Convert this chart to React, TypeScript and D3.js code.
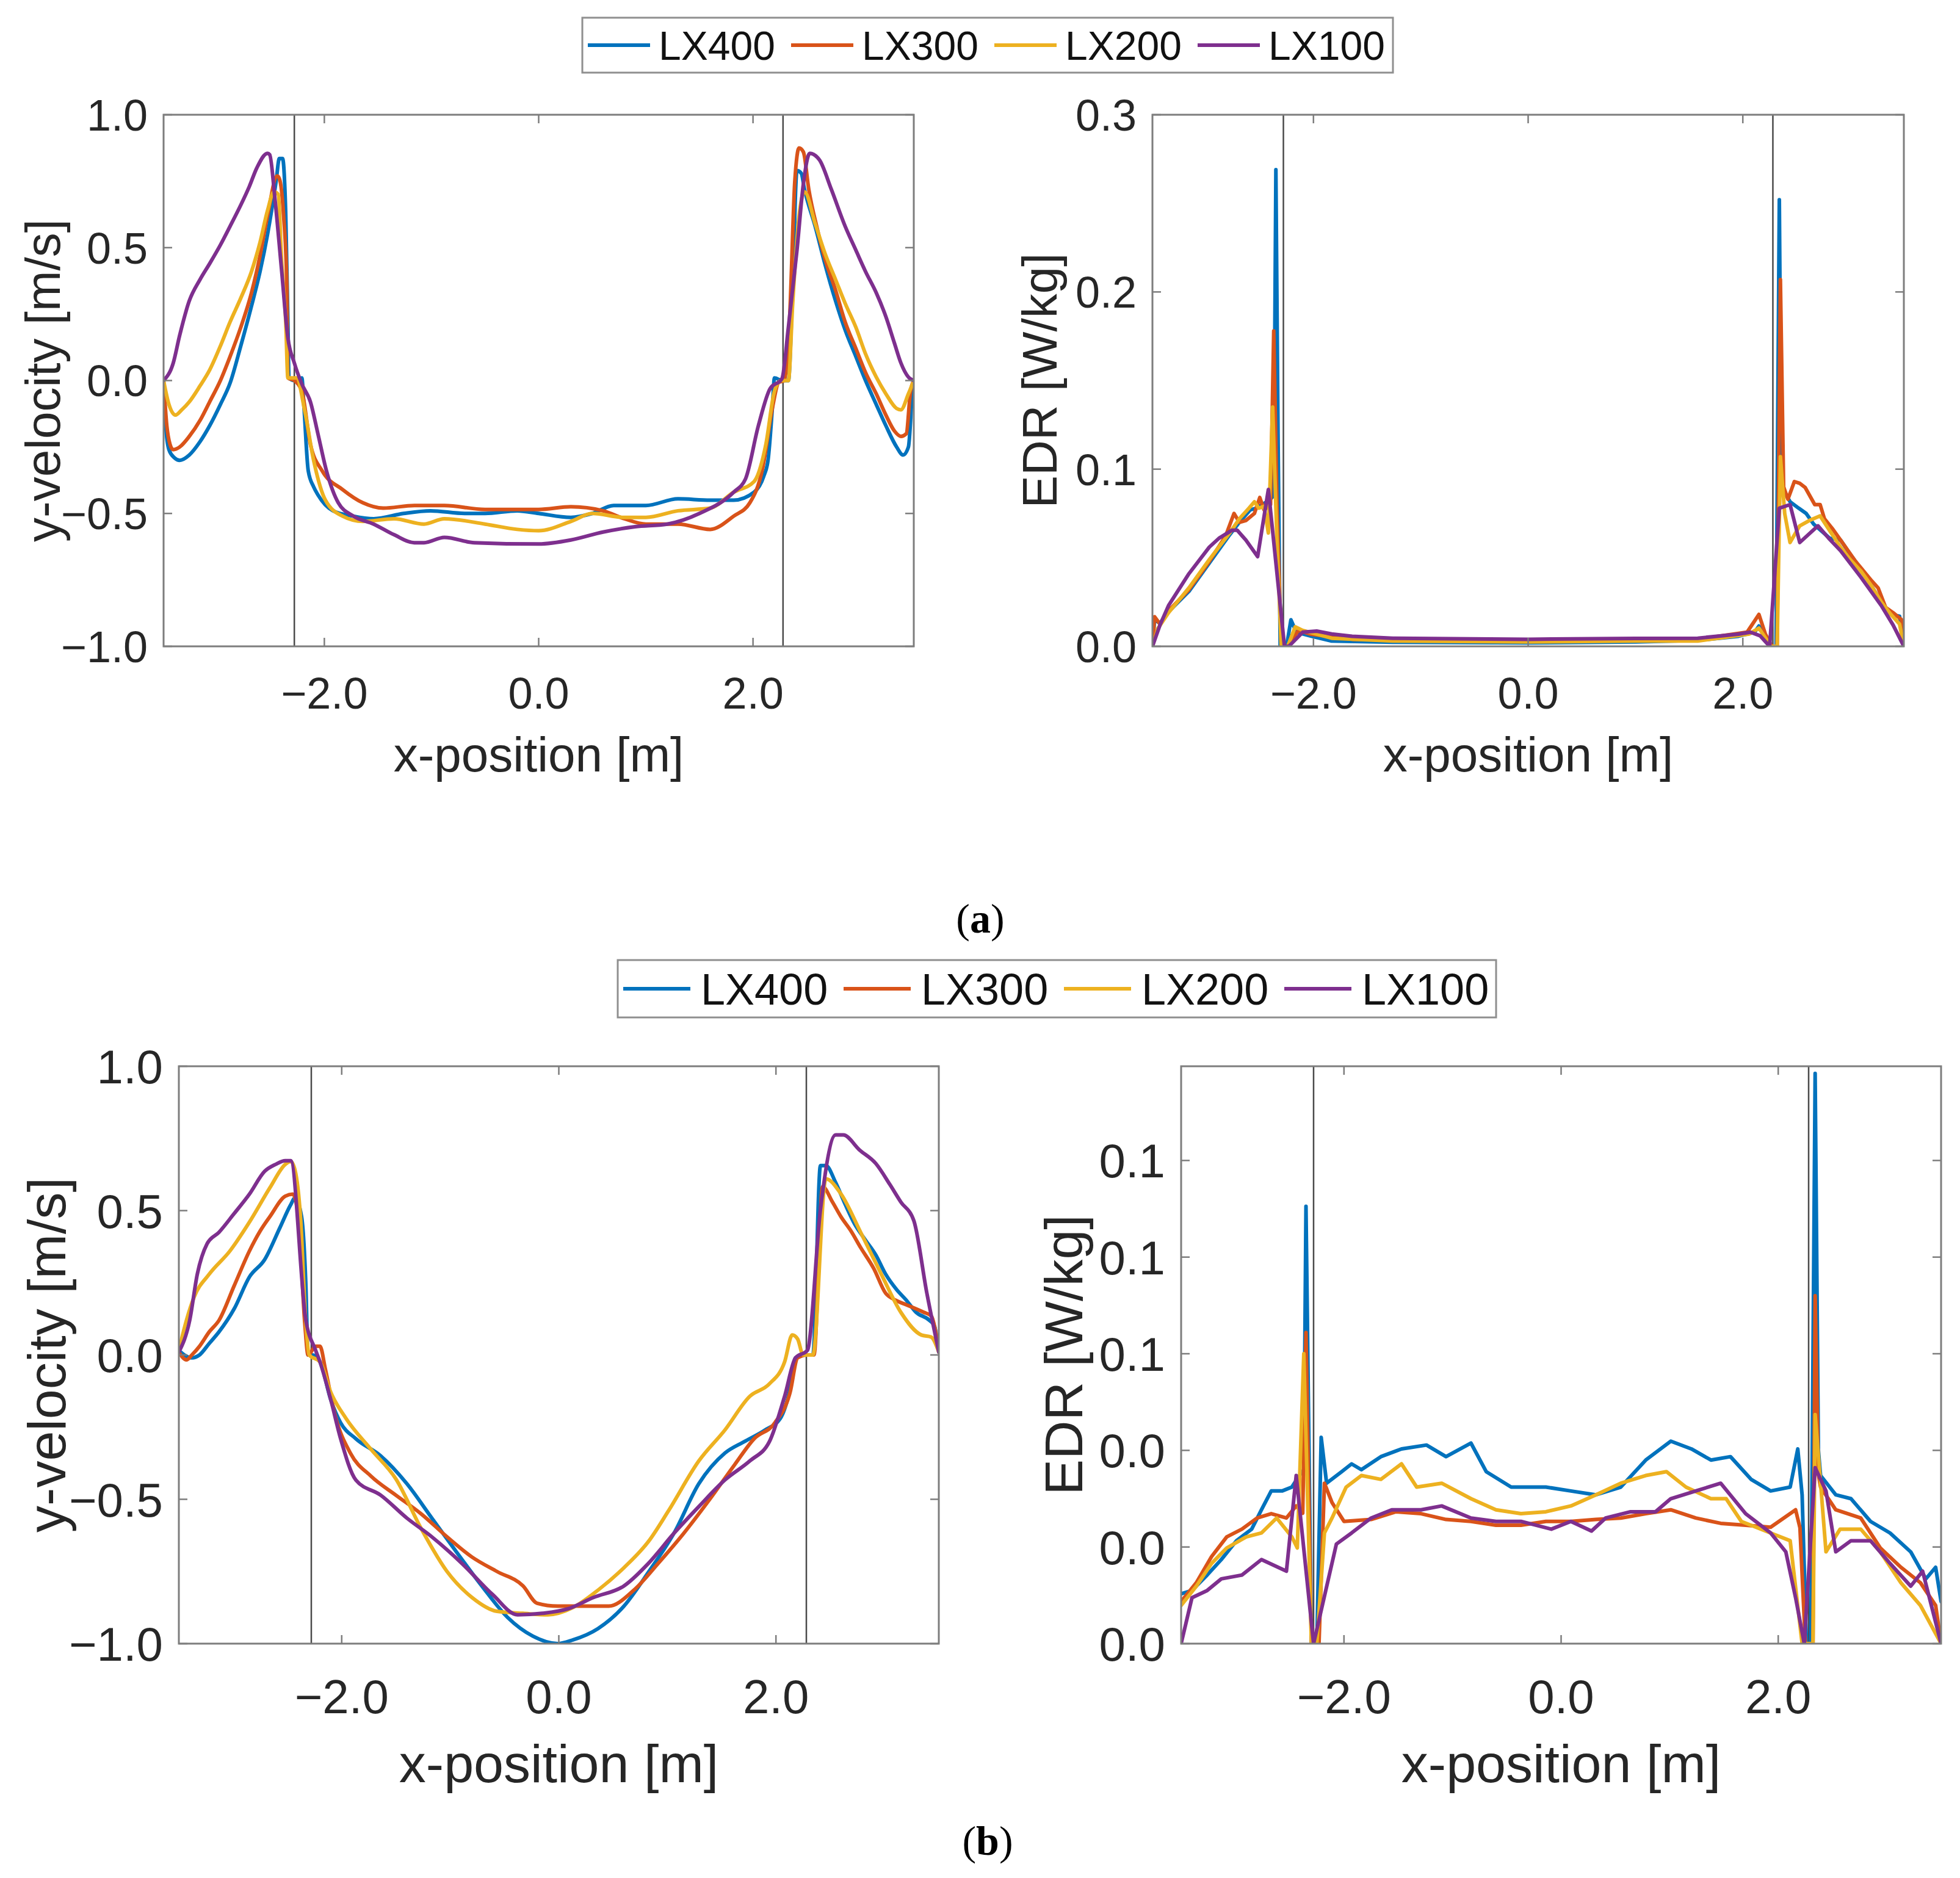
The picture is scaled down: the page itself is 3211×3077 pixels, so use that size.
import React from 'react';
import * as d3 from 'd3';

type Pt = [number, number];

const SERIES_NAMES = ['LX400', 'LX300', 'LX200', 'LX100'];
const SERIES_COLORS = ['#0072BD', '#D95319', '#EDB120', '#7E2F8E'];

const X_TICKS = [-2, 0, 2];
const VEL_TICKS = [-1, -0.5, 0, 0.5, 1];
const EDR_TICKS_A = [0, 0.1, 0.2, 0.3];
const EDR_TICKS_B = [0, 0.02, 0.04, 0.06, 0.08, 0.1];
const WALLS = [-2.28, 2.28];

// (a) y-velocity
const velA400: Pt[] = [[-3.5, 0], [-3.48, -0.17], [-3.45, -0.26], [-3.4, -0.29], [-3.35, -0.3], [-3.26, -0.28], [-3.16, -0.23], [-3.07, -0.17], [-2.97, -0.09], [-2.88, -0.01], [-2.78, 0.13], [-2.68, 0.28], [-2.6, 0.41], [-2.53, 0.55], [-2.45, 0.75], [-2.42, 0.835], [-2.39, 0.835], [-2.36, 0.62], [-2.34, 0.22], [-2.33, 0.01], [-2.28, 0], [-2.21, 0.01], [-2.19, -0.1], [-2.15, -0.34], [-2.1, -0.4], [-2.06, -0.43], [-1.92, -0.49], [-1.73, -0.51], [-1.54, -0.52], [-1.26, -0.5], [-1.01, -0.49], [-0.69, -0.5], [-0.5, -0.5], [-0.2, -0.49], [0, -0.5], [0.3, -0.515], [0.5, -0.5], [0.7, -0.47], [1.0, -0.47], [1.3, -0.445], [1.6, -0.45], [1.82, -0.45], [2.01, -0.42], [2.1, -0.36], [2.14, -0.3], [2.18, -0.105], [2.2, 0.01], [2.27, 0], [2.33, 0], [2.37, 0.355], [2.41, 0.79], [2.45, 0.78], [2.48, 0.72], [2.58, 0.58], [2.67, 0.44], [2.77, 0.3], [2.86, 0.19], [2.96, 0.09], [3.05, 0], [3.15, -0.09], [3.24, -0.17], [3.34, -0.25], [3.4, -0.28], [3.45, -0.25], [3.49, -0.03], [3.5, 0]];
const velA300: Pt[] = [[-3.5, 0], [-3.47, -0.17], [-3.44, -0.24], [-3.41, -0.26], [-3.35, -0.25], [-3.26, -0.21], [-3.16, -0.15], [-3.07, -0.08], [-2.97, 0], [-2.88, 0.09], [-2.78, 0.2], [-2.68, 0.33], [-2.6, 0.47], [-2.53, 0.62], [-2.44, 0.77], [-2.42, 0.76], [-2.38, 0.62], [-2.35, 0.36], [-2.34, 0.01], [-2.28, 0], [-2.21, -0.04], [-2.13, -0.24], [-2.02, -0.34], [-1.83, -0.41], [-1.64, -0.46], [-1.45, -0.48], [-1.16, -0.47], [-0.88, -0.47], [-0.5, -0.485], [0, -0.485], [0.3, -0.475], [0.6, -0.49], [0.8, -0.52], [1.0, -0.54], [1.3, -0.54], [1.6, -0.56], [1.82, -0.51], [1.97, -0.46], [2.09, -0.33], [2.18, -0.105], [2.24, -0.007], [2.29, 0], [2.34, 0.22], [2.39, 0.75], [2.43, 0.875], [2.47, 0.86], [2.52, 0.72], [2.6, 0.57], [2.67, 0.46], [2.77, 0.34], [2.86, 0.22], [2.96, 0.12], [3.05, 0.03], [3.15, -0.05], [3.24, -0.13], [3.32, -0.19], [3.38, -0.21], [3.43, -0.2], [3.47, -0.04], [3.5, 0]];
const velA200: Pt[] = [[-3.5, 0], [-3.45, -0.09], [-3.39, -0.13], [-3.33, -0.11], [-3.26, -0.08], [-3.16, -0.02], [-3.07, 0.04], [-2.97, 0.13], [-2.88, 0.22], [-2.78, 0.31], [-2.68, 0.41], [-2.6, 0.52], [-2.53, 0.64], [-2.47, 0.71], [-2.43, 0.7], [-2.4, 0.46], [-2.36, 0.22], [-2.34, 0.01], [-2.26, 0.01], [-2.18, -0.12], [-2.1, -0.3], [-1.99, -0.45], [-1.83, -0.51], [-1.64, -0.53], [-1.35, -0.52], [-1.07, -0.54], [-0.88, -0.52], [-0.5, -0.54], [-0.2, -0.56], [0, -0.565], [0.3, -0.53], [0.5, -0.5], [0.8, -0.515], [1.0, -0.515], [1.3, -0.49], [1.6, -0.48], [1.82, -0.42], [2.01, -0.38], [2.12, -0.24], [2.2, -0.04], [2.26, 0], [2.33, 0], [2.37, 0.29], [2.43, 0.62], [2.48, 0.71], [2.58, 0.59], [2.67, 0.48], [2.77, 0.38], [2.86, 0.29], [2.96, 0.2], [3.05, 0.1], [3.15, 0.013], [3.24, -0.05], [3.34, -0.105], [3.38, -0.11], [3.45, -0.05], [3.5, 0]];
const velA100: Pt[] = [[-3.5, 0], [-3.41, 0.066], [-3.35, 0.17], [-3.26, 0.3], [-3.16, 0.38], [-3.07, 0.44], [-2.97, 0.51], [-2.88, 0.58], [-2.78, 0.66], [-2.7, 0.73], [-2.63, 0.8], [-2.53, 0.855], [-2.51, 0.85], [-2.46, 0.68], [-2.4, 0.42], [-2.34, 0.16], [-2.28, 0.066], [-2.21, -0.013], [-2.13, -0.08], [-2.06, -0.2], [-1.98, -0.34], [-1.87, -0.46], [-1.73, -0.51], [-1.54, -0.54], [-1.35, -0.58], [-1.16, -0.61], [-1.07, -0.61], [-0.88, -0.59], [-0.6, -0.61], [0, -0.615], [0.3, -0.6], [0.6, -0.57], [0.9, -0.55], [1.2, -0.54], [1.5, -0.5], [1.82, -0.42], [1.93, -0.37], [2.05, -0.17], [2.16, -0.03], [2.27, 0.007], [2.33, 0.2], [2.41, 0.49], [2.47, 0.74], [2.53, 0.855], [2.62, 0.83], [2.73, 0.72], [2.86, 0.58], [2.96, 0.49], [3.05, 0.41], [3.15, 0.33], [3.24, 0.24], [3.32, 0.14], [3.38, 0.066], [3.45, 0.013], [3.5, 0]];

// (a) EDR
const edrA400: Pt[] = [[-3.5, 0], [-3.48, 0.015], [-3.43, 0.013], [-3.35, 0.0195], [-3.16, 0.031], [-2.97, 0.047], [-2.78, 0.063], [-2.69, 0.07], [-2.59, 0.077], [-2.53, 0.078], [-2.48, 0.08], [-2.42, 0.082], [-2.37, 0.085], [-2.35, 0.269], [-2.33, 0.12], [-2.31, 0], [-2.25, 0], [-2.21, 0.015], [-2.16, 0.008], [-2.02, 0.0057], [-1.83, 0.003], [-1.26, 0.0023], [0, 0.002], [1.0, 0.0025], [1.58, 0.0034], [1.96, 0.0057], [2.11, 0.008], [2.15, 0.0115], [2.25, 0], [2.31, 0], [2.34, 0.252], [2.36, 0.09], [2.44, 0.0816], [2.52, 0.078], [2.59, 0.075], [2.66, 0.069], [2.81, 0.061], [2.91, 0.06], [3.0, 0.052], [3.1, 0.0437], [3.2, 0.034], [3.29, 0.025], [3.38, 0.018], [3.46, 0.017], [3.5, 0]];
const edrA300: Pt[] = [[-3.5, 0], [-3.48, 0.0167], [-3.43, 0.0126], [-3.35, 0.02], [-3.16, 0.032], [-2.97, 0.048], [-2.82, 0.062], [-2.74, 0.075], [-2.69, 0.07], [-2.63, 0.071], [-2.55, 0.075], [-2.5, 0.084], [-2.46, 0.077], [-2.4, 0.08], [-2.37, 0.178], [-2.34, 0.08], [-2.3, 0], [-2.24, 0], [-2.14, 0.009], [-2.02, 0.0068], [-1.64, 0.004], [-1.26, 0.0035], [0, 0.003], [1.0, 0.0035], [1.58, 0.004], [2.04, 0.008], [2.15, 0.018], [2.21, 0.0069], [2.27, 0], [2.32, 0], [2.35, 0.207], [2.38, 0.09], [2.42, 0.083], [2.48, 0.093], [2.53, 0.092], [2.58, 0.0897], [2.67, 0.08], [2.72, 0.08], [2.76, 0.072], [2.84, 0.066], [2.91, 0.06], [3.05, 0.048], [3.2, 0.037], [3.26, 0.033], [3.33, 0.022], [3.4, 0.019], [3.48, 0.015], [3.5, 0]];
const edrA200: Pt[] = [[-3.5, 0], [-3.45, 0.01], [-3.35, 0.019], [-3.16, 0.033], [-2.97, 0.049], [-2.78, 0.064], [-2.69, 0.072], [-2.6, 0.078], [-2.55, 0.0816], [-2.51, 0.078], [-2.46, 0.079], [-2.42, 0.064], [-2.38, 0.135], [-2.34, 0.06], [-2.3, 0], [-2.24, 0], [-2.17, 0.011], [-2.1, 0.009], [-1.83, 0.0046], [-1.26, 0.003], [0, 0.0025], [1.0, 0.003], [1.58, 0.003], [2.06, 0.007], [2.15, 0.0103], [2.23, 0.003], [2.26, 0], [2.32, 0], [2.35, 0.107], [2.39, 0.075], [2.44, 0.0586], [2.53, 0.068], [2.62, 0.071], [2.72, 0.0736], [2.78, 0.068], [2.91, 0.056], [3.0, 0.049], [3.1, 0.0425], [3.2, 0.034], [3.29, 0.025], [3.38, 0.018], [3.46, 0.0126], [3.5, 0]];
const edrA100: Pt[] = [[-3.5, 0], [-3.43, 0.012], [-3.35, 0.023], [-3.16, 0.041], [-2.97, 0.056], [-2.88, 0.061], [-2.76, 0.0655], [-2.71, 0.0655], [-2.63, 0.06], [-2.52, 0.0506], [-2.42, 0.0885], [-2.27, 0], [-2.23, 0], [-2.1, 0.008], [-1.97, 0.0086], [-1.83, 0.007], [-1.64, 0.0057], [-1.26, 0.0046], [0, 0.004], [1.0, 0.0045], [1.58, 0.0046], [1.96, 0.0069], [2.07, 0.008], [2.16, 0.006], [2.25, 0], [2.34, 0.078], [2.44, 0.08], [2.53, 0.0586], [2.7, 0.068], [2.8, 0.061], [2.91, 0.054], [3.1, 0.039], [3.29, 0.023], [3.4, 0.012], [3.5, 0]];

// (b) y-velocity
const velB400: Pt[] = [[-3.5, 0.016], [-3.45, 0], [-3.38, -0.01], [-3.31, 0], [-3.22, 0.04], [-3.13, 0.08], [-2.99, 0.16], [-2.85, 0.27], [-2.71, 0.33], [-2.57, 0.44], [-2.47, 0.52], [-2.43, 0.544], [-2.37, 0.48], [-2.33, 0.24], [-2.31, 0], [-2.27, 0], [-2.2, -0.024], [-2.1, -0.156], [-2.01, -0.235], [-1.87, -0.29], [-1.64, -0.35], [-1.4, -0.446], [-1.17, -0.565], [-0.94, -0.684], [-0.71, -0.8], [-0.47, -0.91], [-0.24, -0.974], [-0.01, -1.0], [0.13, -0.987], [0.36, -0.948], [0.6, -0.87], [0.83, -0.75], [1.06, -0.618], [1.29, -0.446], [1.53, -0.34], [1.71, -0.3], [1.9, -0.26], [2.04, -0.22], [2.13, -0.116], [2.18, -0.01], [2.27, 0], [2.34, 0], [2.41, 0.656], [2.46, 0.656], [2.55, 0.597], [2.64, 0.52], [2.73, 0.45], [2.82, 0.4], [2.92, 0.346], [3.01, 0.28], [3.11, 0.227], [3.2, 0.19], [3.29, 0.148], [3.41, 0.121], [3.46, 0.1], [3.5, 0.01]];
const velB300: Pt[] = [[-3.5, 0.01], [-3.43, -0.017], [-3.38, 0], [-3.31, 0.03], [-3.22, 0.08], [-3.13, 0.12], [-2.99, 0.24], [-2.85, 0.36], [-2.75, 0.43], [-2.66, 0.48], [-2.52, 0.55], [-2.45, 0.557], [-2.4, 0.48], [-2.34, 0.11], [-2.31, 0], [-2.24, 0.03], [-2.2, 0.03], [-2.15, -0.05], [-2.06, -0.21], [-1.92, -0.34], [-1.73, -0.42], [-1.5, -0.486], [-1.27, -0.55], [-1.03, -0.63], [-0.8, -0.7], [-0.57, -0.75], [-0.33, -0.8], [-0.2, -0.86], [-0.01, -0.87], [0.22, -0.87], [0.46, -0.87], [0.69, -0.815], [0.92, -0.72], [1.15, -0.618], [1.39, -0.5], [1.62, -0.38], [1.8, -0.29], [1.99, -0.235], [2.13, -0.13], [2.2, -0.01], [2.29, 0], [2.35, 0], [2.43, 0.583], [2.52, 0.53], [2.6, 0.478], [2.69, 0.43], [2.78, 0.372], [2.9, 0.3], [3.01, 0.214], [3.1, 0.19], [3.2, 0.174], [3.36, 0.148], [3.43, 0.135], [3.5, 0.01]];
const velB200: Pt[] = [[-3.5, 0.016], [-3.43, 0.12], [-3.36, 0.2], [-3.22, 0.28], [-3.03, 0.36], [-2.85, 0.46], [-2.66, 0.58], [-2.52, 0.66], [-2.47, 0.67], [-2.43, 0.64], [-2.38, 0.48], [-2.33, 0.11], [-2.3, 0], [-2.2, -0.024], [-2.1, -0.13], [-1.96, -0.22], [-1.73, -0.327], [-1.5, -0.43], [-1.27, -0.6], [-1.03, -0.75], [-0.8, -0.84], [-0.57, -0.888], [-0.33, -0.895], [-0.1, -0.9], [0.13, -0.875], [0.36, -0.815], [0.6, -0.737], [0.83, -0.644], [1.01, -0.54], [1.29, -0.367], [1.53, -0.26], [1.76, -0.143], [1.94, -0.1], [2.08, -0.024], [2.15, 0.069], [2.2, 0.055], [2.25, 0], [2.34, 0], [2.46, 0.61], [2.6, 0.557], [2.78, 0.425], [2.97, 0.28], [3.15, 0.148], [3.34, 0.069], [3.43, 0.062], [3.5, 0.01]];
const velB100: Pt[] = [[-3.5, 0.01], [-3.4, 0.12], [-3.33, 0.28], [-3.24, 0.385], [-3.13, 0.425], [-2.99, 0.49], [-2.85, 0.557], [-2.71, 0.636], [-2.61, 0.66], [-2.52, 0.673], [-2.47, 0.673], [-2.33, 0.12], [-2.24, 0.016], [-2.2, -0.024], [-2.1, -0.156], [-2.01, -0.29], [-1.87, -0.433], [-1.64, -0.486], [-1.4, -0.565], [-1.17, -0.63], [-0.89, -0.723], [-0.61, -0.83], [-0.38, -0.9], [-0.15, -0.895], [0.08, -0.88], [0.32, -0.84], [0.6, -0.8], [0.83, -0.72], [1.06, -0.618], [1.29, -0.525], [1.53, -0.433], [1.76, -0.367], [1.94, -0.3], [2.08, -0.143], [2.18, -0.01], [2.29, 0.016], [2.41, 0.504], [2.55, 0.762], [2.62, 0.762], [2.77, 0.71], [2.92, 0.663], [3.05, 0.59], [3.15, 0.53], [3.27, 0.465], [3.39, 0.214], [3.5, 0.01]];

// (b) EDR
const edrB400: Pt[] = [[-3.5, 0.0103], [-3.4, 0.011], [-3.26, 0.0142], [-3.13, 0.0174], [-2.99, 0.0213], [-2.85, 0.0237], [-2.76, 0.0277], [-2.67, 0.0316], [-2.57, 0.0316], [-2.48, 0.0324], [-2.41, 0.0348], [-2.37, 0.036], [-2.35, 0.0905], [-2.3, 0], [-2.25, 0], [-2.21, 0.0427], [-2.16, 0.0332], [-2.02, 0.0356], [-1.93, 0.0372], [-1.84, 0.036], [-1.66, 0.0387], [-1.47, 0.0403], [-1.24, 0.0411], [-1.06, 0.0387], [-0.83, 0.0415], [-0.69, 0.0356], [-0.46, 0.0324], [-0.14, 0.0324], [0.09, 0.0316], [0.32, 0.0308], [0.55, 0.0324], [0.78, 0.038], [1.01, 0.0419], [1.2, 0.0403], [1.38, 0.038], [1.56, 0.0387], [1.75, 0.034], [1.93, 0.0316], [2.11, 0.0324], [2.18, 0.0403], [2.22, 0.0308], [2.26, 0], [2.3, 0], [2.34, 0.118], [2.37, 0.04], [2.39, 0.0348], [2.53, 0.0308], [2.67, 0.03], [2.85, 0.0253], [3.03, 0.0229], [3.22, 0.019], [3.36, 0.0134], [3.45, 0.0158], [3.5, 0.0087]];
const edrB300: Pt[] = [[-3.5, 0.0087], [-3.36, 0.0126], [-3.22, 0.018], [-3.08, 0.0221], [-2.94, 0.0237], [-2.8, 0.026], [-2.67, 0.0269], [-2.53, 0.026], [-2.44, 0.0285], [-2.38, 0.027], [-2.35, 0.0644], [-2.3, 0], [-2.23, 0], [-2.18, 0.0332], [-2.11, 0.0292], [-2.0, 0.0253], [-1.75, 0.0257], [-1.52, 0.0273], [-1.29, 0.0269], [-1.06, 0.0257], [-0.83, 0.0253], [-0.6, 0.0245], [-0.37, 0.0245], [-0.14, 0.0253], [0.09, 0.0253], [0.32, 0.0257], [0.55, 0.026], [0.78, 0.0269], [1.01, 0.0277], [1.24, 0.026], [1.47, 0.0249], [1.7, 0.0245], [1.93, 0.0241], [2.16, 0.0277], [2.2, 0.024], [2.25, 0], [2.32, 0], [2.34, 0.072], [2.37, 0.035], [2.39, 0.0324], [2.53, 0.0277], [2.76, 0.026], [2.94, 0.0198], [3.13, 0.0158], [3.31, 0.0126], [3.45, 0.0079], [3.5, 0]];
const edrB200: Pt[] = [[-3.5, 0.0079], [-3.36, 0.0119], [-3.22, 0.0166], [-3.08, 0.0198], [-2.9, 0.0221], [-2.76, 0.0229], [-2.62, 0.026], [-2.48, 0.0221], [-2.43, 0.0198], [-2.37, 0.06], [-2.3, 0], [-2.25, 0], [-2.18, 0.0229], [-2.11, 0.026], [-1.98, 0.0324], [-1.84, 0.0348], [-1.66, 0.034], [-1.47, 0.0372], [-1.33, 0.0324], [-1.1, 0.0332], [-0.83, 0.03], [-0.6, 0.0277], [-0.37, 0.0269], [-0.14, 0.0273], [0.09, 0.0285], [0.32, 0.0308], [0.55, 0.0332], [0.78, 0.0348], [0.97, 0.0356], [1.15, 0.0324], [1.38, 0.03], [1.52, 0.03], [1.66, 0.0253], [1.93, 0.0229], [2.11, 0.0213], [2.22, 0], [2.32, 0], [2.34, 0.0474], [2.44, 0.019], [2.57, 0.0237], [2.76, 0.0237], [2.94, 0.019], [3.13, 0.0126], [3.31, 0.0079], [3.5, 0]];
const edrB100: Pt[] = [[-3.5, 0], [-3.4, 0.0095], [-3.26, 0.011], [-3.13, 0.0134], [-2.94, 0.0142], [-2.76, 0.0174], [-2.53, 0.015], [-2.44, 0.0348], [-2.28, 0], [-2.07, 0.0206], [-1.93, 0.0229], [-1.75, 0.026], [-1.56, 0.0277], [-1.29, 0.0277], [-1.1, 0.0285], [-0.83, 0.026], [-0.6, 0.0253], [-0.37, 0.0253], [-0.09, 0.0237], [0.09, 0.0253], [0.28, 0.0233], [0.41, 0.026], [0.64, 0.0273], [0.87, 0.0273], [1.01, 0.03], [1.24, 0.0316], [1.47, 0.0332], [1.7, 0.0269], [1.93, 0.0229], [2.07, 0.019], [2.16, 0.0095], [2.24, 0], [2.34, 0.0364], [2.44, 0.0316], [2.53, 0.019], [2.67, 0.0213], [2.85, 0.0213], [3.03, 0.0166], [3.22, 0.0119], [3.33, 0.015], [3.5, 0]];

const FONT = '"Liberation Sans", Arial, Helvetica, sans-serif';
const INK = '#262626';
const BOX = '#7d7d7d';

const fmt1 = (v: number) => (v < 0 ? '\u2212' : '') + Math.abs(v).toFixed(1);

interface PanelProps {
  id: string;
  x: number;
  y: number;
  w: number;
  h: number;
  yDomain: [number, number];
  yTicks: number[];
  yLabel: string;
  yLabelX: number;
  series: Pt[][];
  smooth?: boolean;
  tickFont: number;
  labelFont: number;
  xTickDy: number;
  xLabelDy: number;
}

const Panel: React.FC<PanelProps> = ({
  id, x, y, w, h, yDomain, yTicks, yLabel, yLabelX, series, smooth, tickFont, labelFont, xTickDy, xLabelDy,
}) => {
  const xs = d3.scaleLinear().domain([-3.5, 3.5]).range([x, x + w]);
  const ys = d3.scaleLinear().domain(yDomain).range([y + h, y]);
  const line = d3.line<Pt>().x(d => xs(d[0])).y(d => ys(d[1]))
    .curve(smooth ? d3.curveMonotoneX : d3.curveLinear);
  const tl = 14;

  return (
    <g>
      <defs>
        <clipPath id={id}>
          <rect x={x} y={y} width={w} height={h} />
        </clipPath>
      </defs>

      {/* walls */}
      {WALLS.map(v => (
        <line key={v} x1={xs(v)} x2={xs(v)} y1={y} y2={y + h} stroke="#4a4a4a" strokeWidth={2.5} />
      ))}

      <g clipPath={`url(#${id})`}>
        {series.map((s, i) => (
          <path key={i} d={line(s) || ''} fill="none" stroke={SERIES_COLORS[i]}
            strokeWidth={6} strokeLinejoin="round" strokeLinecap="round" />
        ))}
      </g>

      {/* box + inner ticks */}
      <rect x={x} y={y} width={w} height={h} fill="none" stroke={BOX} strokeWidth={3} />
      {X_TICKS.map(t => (
        <g key={'x' + t}>
          <line x1={xs(t)} x2={xs(t)} y1={y + h} y2={y + h - tl} stroke={BOX} strokeWidth={2.5} />
          <line x1={xs(t)} x2={xs(t)} y1={y} y2={y + tl} stroke={BOX} strokeWidth={2.5} />
          <text x={xs(t)} y={y + h + xTickDy} textAnchor="middle" fontSize={tickFont} fill={INK}>
            {fmt1(t)}
          </text>
        </g>
      ))}
      {yTicks.map(t => (
        <g key={'y' + t}>
          <line x1={x} x2={x + tl} y1={ys(t)} y2={ys(t)} stroke={BOX} strokeWidth={2.5} />
          <line x1={x + w} x2={x + w - tl} y1={ys(t)} y2={ys(t)} stroke={BOX} strokeWidth={2.5} />
          <text x={x - 26} y={ys(t)} dy="0.36em" textAnchor="end" fontSize={tickFont} fill={INK}>
            {fmt1(t)}
          </text>
        </g>
      ))}

      <text x={x + w / 2} y={y + h + xLabelDy} textAnchor="middle" fontSize={labelFont} fill={INK}>
        x-position [m]
      </text>
      <text transform={`translate(${yLabelX},${y + h / 2}) rotate(-90)`} textAnchor="middle"
        fontSize={labelFont} fill={INK}>
        {yLabel}
      </text>
    </g>
  );
};

interface LegendProps {
  x: number;
  y: number;
  w: number;
  h: number;
  step: number;
  lineLen: number;
  gap: number;
  font: number;
}

const Legend: React.FC<LegendProps> = ({ x, y, w, h, step, lineLen, gap, font }) => {
  const cy = y + h / 2;
  return (
    <g>
      <rect x={x} y={y} width={w} height={h} fill="#fff" stroke="#8f8f8f" strokeWidth={3} />
      {SERIES_NAMES.map((name, i) => {
        const sx = x + 9 + i * step;
        return (
          <g key={name}>
            <line x1={sx} x2={sx + lineLen} y1={cy} y2={cy} stroke={SERIES_COLORS[i]} strokeWidth={6} />
            <text x={sx + lineLen + gap} y={cy} dy="0.36em" fontSize={font} fill="#111">{name}</text>
          </g>
        );
      })}
    </g>
  );
};

const Caption: React.FC<{ x: number; y: number; letter: string }> = ({ x, y, letter }) => (
  <text x={x} y={y} textAnchor="middle" fontSize={68} fontFamily='"Liberation Serif", "Times New Roman", serif' fill="#000">
    (<tspan fontWeight="bold">{letter}</tspan>)
  </text>
);

export default function App() {
  return (
    <svg width={3211} height={3077} viewBox="0 0 3211 3077"
      style={{ position: 'absolute', left: 0, top: 0, display: 'block', background: '#fff' }}
      fontFamily={FONT}>
      <rect x={0} y={0} width={3211} height={3077} fill="#fff" />

      <Legend x={954} y={29} w={1328} h={90} step={333} lineLen={102} gap={14} font={66} />
      <Panel id="cA1" x={268} y={188} w={1229} h={871} yDomain={[-1, 1]} yTicks={VEL_TICKS}
        yLabel="y-velocity [m/s]" yLabelX={98} series={[velA400, velA300, velA200, velA100]} smooth
        tickFont={72} labelFont={80} xTickDy={102} xLabelDy={205} />
      <Panel id="cA2" x={1888} y={188} w={1231} h={871} yDomain={[0, 0.3]} yTicks={EDR_TICKS_A}
        yLabel="EDR [W/kg]" yLabelX={1731} series={[edrA400, edrA300, edrA200, edrA100]}
        tickFont={72} labelFont={80} xTickDy={102} xLabelDy={205} />
      <Caption x={1606} y={1528} letter="a" />

      <Legend x={1012} y={1573} w={1439} h={94} step={361} lineLen={110} gap={17} font={72} />
      <Panel id="cB1" x={293} y={1747} w={1245} h={946} yDomain={[-1, 1]} yTicks={VEL_TICKS}
        yLabel="y-velocity [m/s]" yLabelX={107} series={[velB400, velB300, velB200, velB100]} smooth
        tickFont={78} labelFont={88} xTickDy={114} xLabelDy={227} />
      <Panel id="cB2" x={1935} y={1747} w={1245} h={946} yDomain={[0, 0.1195]} yTicks={EDR_TICKS_B}
        yLabel="EDR [W/kg]" yLabelX={1773} series={[edrB400, edrB300, edrB200, edrB100]}
        tickFont={78} labelFont={88} xTickDy={114} xLabelDy={227} />
      <Caption x={1618} y={3039} letter="b" />
    </svg>
  );
}
